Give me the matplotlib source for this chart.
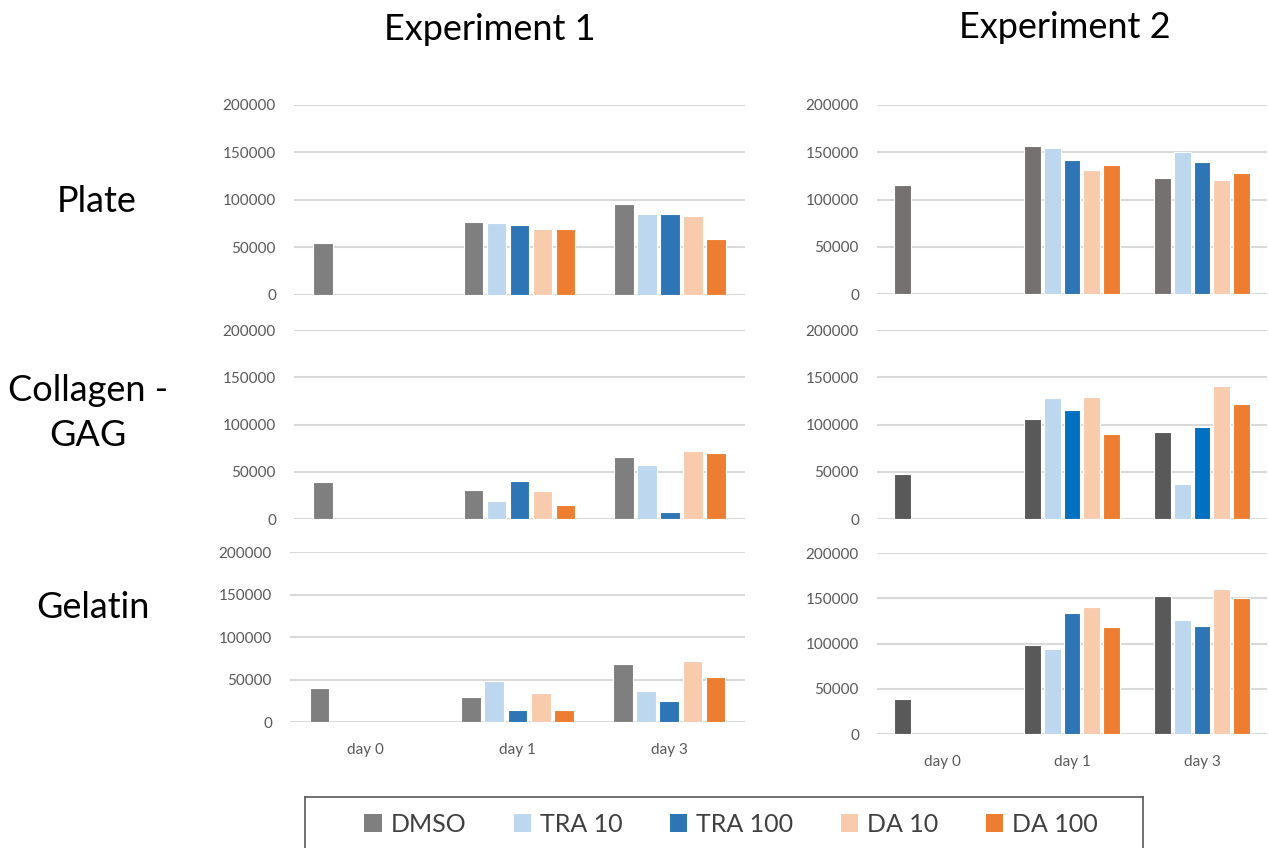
import matplotlib
matplotlib.use("Agg")
import matplotlib.pyplot as plt
from matplotlib.patches import Rectangle
from matplotlib.lines import Line2D
import numpy as np

plt.rcParams['font.family'] = ['Lato', 'DejaVu Sans']

# ---- data -------------------------------------------------------------
days = ["day 0", "day 1", "day 3"]
treatments = ["DMSO", "TRA 10", "TRA 100", "DA 10", "DA 100"]
experiments = ["Experiment 1", "Experiment 2"]
substrates = ["Plate", "Collagen -\nGAG", "Gelatin"]

# values per treatment: [day 0, day 1, day 3]; day 0 only has DMSO
exp1_plate = {
    "DMSO":    [54500, 76800, 95400],
    "TRA 10":  [None, 75000, 85200],
    "TRA 100": [None, 72900, 84900],
    "DA 10":   [None, 68700, 82700],
    "DA 100":  [None, 68700, 58100],
}
exp1_collagen = {
    "DMSO":    [39400, 30600, 65500],
    "TRA 10":  [None, 19700, 57400],
    "TRA 100": [None, 40800, 7700],
    "DA 10":   [None, 29900, 72500],
    "DA 100":  [None, 15500, 70400],
}
exp1_gelatin = {
    "DMSO":    [40000, 29400, 67800],
    "TRA 10":  [None, 47800, 36500],
    "TRA 100": [None, 13700, 24700],
    "DA 10":   [None, 34500, 71800],
    "DA 100":  [None, 14500, 52500],
}
exp2_plate = {
    "DMSO":    [115500, 156700, 122900],
    "TRA 10":  [None, 154600, 150400],
    "TRA 100": [None, 141900, 139800],
    "DA 10":   [None, 131700, 121100],
    "DA 100":  [None, 136600, 128500],
}
exp2_collagen = {
    "DMSO":    [47900, 105600, 91900],
    "TRA 10":  [None, 127800, 37300],
    "TRA 100": [None, 115100, 97900],
    "DA 10":   [None, 129200, 140500],
    "DA 100":  [None, 89800, 121500],
}
exp2_gelatin = {
    "DMSO":    [39100, 98500, 153100],
    "TRA 10":  [None, 93700, 126200],
    "TRA 100": [None, 134000, 119900],
    "DA 10":   [None, 140600, 160500],
    "DA 100":  [None, 118500, 150600],
}

y_ticks = [0, 50000, 100000, 150000, 200000]

base_colors = {
    "DMSO": "#7f7f7f",
    "TRA 10": "#bdd7ee",
    "TRA 100": "#2e75b6",
    "DA 10": "#f8cbad",
    "DA 100": "#ed7d31",
}

# ---- figure layout (pixel geometry) -----------------------------------
W, H = 1269, 848
fig = plt.figure(figsize=(W / 100, H / 100), dpi=100)
fig.patch.set_facecolor("white")


def px_axes(left, right, top, bottom):
    return fig.add_axes([left / W, 1 - bottom / H, (right - left) / W, (bottom - top) / H])


panels = [
    # data, left, right, top(200000), bottom(0), colour overrides, show x labels
    (exp1_plate, 294, 745, 105, 294.5, {}, False),
    (exp1_collagen, 294, 745, 330, 519.3, {}, False),
    (exp1_gelatin, 290, 745, 552.3, 722, {}, True),
    (exp2_plate, 877, 1267, 105, 294.3, {"DMSO": "#767171"}, False),
    (exp2_collagen, 877, 1267, 330, 519.3, {"DMSO": "#595959", "TRA 100": "#0070c0"}, False),
    (exp2_gelatin, 877, 1267, 553.3, 734, {"DMSO": "#595959"}, True),
]

text_grey = "#595959"
slot = 0.153
bar_w = 0.13
x = np.arange(len(days))

for data, l, r, t, b, overrides, show_x in panels:
    ax = px_axes(l, r, t, b)
    for i, name in enumerate(treatments):
        vals = data[name]
        xs = [x[j] + (i - 2) * slot for j, v in enumerate(vals) if v is not None]
        hs = [v for v in vals if v is not None]
        ax.bar(xs, hs, width=bar_w, color=overrides.get(name, base_colors[name]),
               edgecolor="white", linewidth=0.8, zorder=3)
    ax.set_xlim(-0.5, 2.5)
    ax.set_ylim(0, 200000)
    ax.set_yticks(y_ticks)
    ax.set_yticklabels([str(v) for v in y_ticks])
    ax.grid(axis="y", color="#d9d9d9", linewidth=1.5, zorder=0)
    ax.set_axisbelow(True)
    for s in ax.spines.values():
        s.set_visible(False)
    ax.tick_params(axis="y", length=0, pad=13, labelsize=11, labelcolor=text_grey)
    ax.set_xticks(x)
    if show_x:
        ax.set_xticklabels(days)
        ax.tick_params(axis="x", length=0, pad=15, labelsize=11, labelcolor=text_grey)
    else:
        ax.set_xticklabels([])
        ax.tick_params(axis="x", length=0)

# ---- titles and row labels -------------------------------------------
fig.text(490 / W, 1 - 30 / H, experiments[0], ha="center", va="center", fontsize=26, color="black")
fig.text(1065 / W, 1 - 27 / H, experiments[1], ha="center", va="center", fontsize=26, color="black")

row_pos = [(97, 201), (88, 413), (93, 607)]
for label, (px, py) in zip(substrates, row_pos):
    fig.text(px / W, 1 - py / H, label, ha="center", va="center", fontsize=26,
             color="black", linespacing=1.45)

# ---- legend -----------------------------------------------------------
box_l, box_r, box_t = 305, 1143, 797
for xs_, ys_ in [((box_l, box_r), (box_t, box_t)),
                 ((box_l, box_l), (box_t, H + 5)),
                 ((box_r, box_r), (box_t, H + 5))]:
    fig.add_artist(Line2D([v / W for v in xs_], [1 - v / H for v in ys_],
                          color="#595959", linewidth=1.2))

handles = [Rectangle((0, 0), 1, 1, facecolor=base_colors[n], edgecolor="none") for n in treatments]
leg = fig.legend(handles, treatments, loc="center", bbox_to_anchor=(731 / W, 1 - 824 / H),
                 ncol=5, frameon=False, fontsize=18, handlelength=0.7, handleheight=0.7,
                 handletextpad=0.35, columnspacing=1.9, labelcolor="#404040")

fig.savefig("out.png", dpi=100, facecolor="white")
